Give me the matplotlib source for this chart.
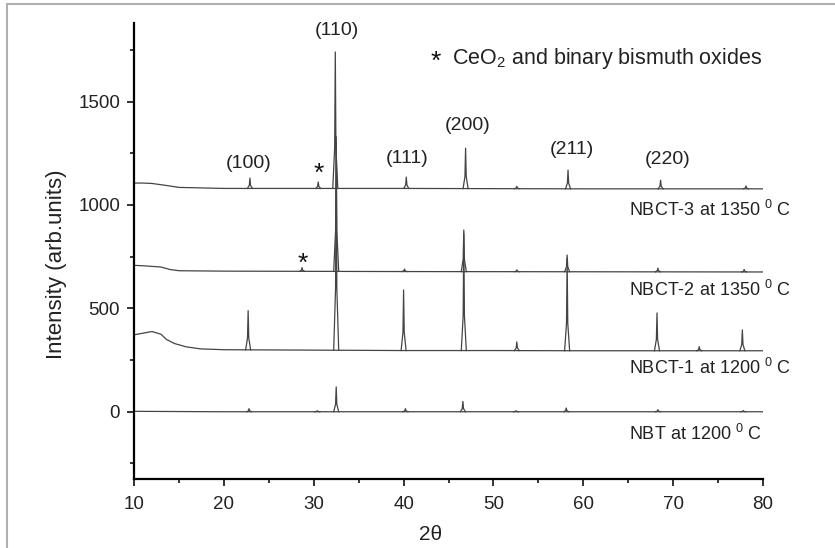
import matplotlib
matplotlib.use("Agg")
import matplotlib.pyplot as plt
import numpy as np
from matplotlib.patches import Rectangle

plt.rcParams['font.family'] = ['Liberation Sans', 'DejaVu Sans']
plt.rcParams['mathtext.fontset'] = 'custom'
plt.rcParams['mathtext.rm'] = 'Liberation Sans'
plt.rcParams['mathtext.it'] = 'Liberation Sans:italic'

# baselines (2theta, intensity)
nbt_base_x = [10, 20, 30, 40, 50, 60, 70, 80]
nbt_base_y = [2, 0, 0, 0, 0, 0, 0, 0]
nbct1_base_x = [10, 11, 12, 13, 13.6, 14.5, 15.8, 17.4, 20, 30, 40, 50, 60, 70, 80]
nbct1_base_y = [372, 380, 388, 375, 350, 330, 314, 304, 300, 298, 296, 296, 295, 295, 295]
nbct2_base_x = [10, 11, 12, 13, 14, 15, 20, 40, 60, 80]
nbct2_base_y = [708, 706, 703, 700, 688, 682, 680, 678, 677, 676]
nbct3_base_x = [10, 11, 12, 13.5, 15, 20, 40, 60, 80]
nbct3_base_y = [1106, 1106, 1104, 1095, 1085, 1080, 1080, 1078, 1078]

# peaks: position (2theta) and top intensity
nbt_peak_pos = [22.8, 30.4, 32.5, 40.2, 46.6, 52.5, 58.1, 68.3, 77.8]
nbt_peak_top = [15, 5, 120, 15, 50, 5, 18, 10, 6]
nbct1_peak_pos = [22.7, 32.5, 40.0, 46.7, 52.6, 58.2, 68.2, 72.9, 77.7]
nbct1_peak_top = [489, 1300, 589, 860, 338, 740, 478, 315, 396]
nbct2_peak_pos = [28.7, 32.5, 40.1, 46.7, 52.6, 58.2, 68.3, 77.9]
nbct2_peak_top = [697, 1330, 690, 879, 686, 758, 695, 688]
nbct3_peak_pos = [22.9, 30.5, 32.4, 40.3, 46.9, 52.6, 58.3, 68.6, 78.1]
nbct3_peak_top = [1130, 1111, 1740, 1135, 1275, 1090, 1169, 1120, 1092]

sample_labels = ['NBT at 1200 $^{0}$ C', 'NBCT-1 at 1200 $^{0}$ C',
                 'NBCT-2 at 1350 $^{0}$ C', 'NBCT-3 at 1350 $^{0}$ C']
label_y = [-106, 213, 589, 976]

hkl_labels = ['(100)', '(110)', '(111)', '(200)', '(211)', '(220)']
hkl_x = [22.8, 32.6, 40.4, 47.1, 58.7, 69.4]
hkl_y = [1203, 1845, 1227, 1386, 1266, 1222]

star_x = [30.6, 28.8]
star_y = [1150, 715]

traces = [
    (nbt_base_x, nbt_base_y, nbt_peak_pos, nbt_peak_top),
    (nbct1_base_x, nbct1_base_y, nbct1_peak_pos, nbct1_peak_top),
    (nbct2_base_x, nbct2_base_y, nbct2_peak_pos, nbct2_peak_top),
    (nbct3_base_x, nbct3_base_y, nbct3_peak_pos, nbct3_peak_top),
]

fig = plt.figure(figsize=(8.35, 5.48), dpi=100)
ax = fig.add_axes([0.1605, 0.126, 0.7533, 0.832])

# thin gray frame around the figure
fig.patches.append(Rectangle((7 / 835, -0.1), 1.1, 1.1 - 4 / 548, transform=fig.transFigure,
                             fill=False, edgecolor='#b0b0b0', linewidth=1.5))

line_color = '#444444'
hw = 0.28
for bx, by, px, pt in traces:
    ax.plot(bx, by, color=line_color, lw=0.9)
    for p, t in zip(px, pt):
        b = np.interp(p, bx, by)
        ax.plot([p - hw, p - 0.07, p, p + 0.07, p + hw],
                [b, b + (t - b) * 0.3, t, b + (t - b) * 0.3, b],
                color=line_color, lw=0.9)

for lab, y in zip(sample_labels, label_y):
    ax.text(65.1, y, lab, fontsize=13, va='center', ha='left', color='#222222')

for lab, x, y in zip(hkl_labels, hkl_x, hkl_y):
    ax.text(x, y, lab, fontsize=14, ha='center', va='center', color='#222222')

for x, y in zip(star_x, star_y):
    ax.text(x, y, '*', fontsize=19, ha='center', va='center', color='#111111')

ax.text(43.6, 1690, '*', fontsize=19, ha='center', va='center', color='#111111')
ax.text(45.4, 1710, 'CeO$_2$ and binary bismuth oxides', fontsize=15.5, ha='left',
        va='center', color='#222222')

ax.set_xlim(10, 80)
ax.set_ylim(-325, 1880)
ax.set_xticks([10, 20, 30, 40, 50, 60, 70, 80])
ax.set_xticks([15, 25, 35, 45, 55, 65, 75], minor=True)
ax.set_yticks([0, 500, 1000, 1500])
ax.set_yticks([-250, 250, 750, 1250, 1750], minor=True)
ax.tick_params(which='major', direction='out', length=5, width=1.3, labelsize=13.5,
               pad=5, colors='#222222')
ax.tick_params(axis='x', which='major', pad=7)
ax.tick_params(which='minor', direction='out', length=3, width=1.1)

for side in ['top', 'right']:
    ax.spines[side].set_visible(False)
for side in ['left', 'bottom']:
    ax.spines[side].set_linewidth(1.6)

ax.set_ylabel('Intensity (arb.units)', fontsize=16, color='#222222')
ax.yaxis.set_label_coords(-0.107, 0.47)
ax.set_xlabel('2θ', fontsize=15, color='#222222')
ax.xaxis.set_label_coords(0.472, -0.10)

fig.savefig('out.png', dpi=100)
